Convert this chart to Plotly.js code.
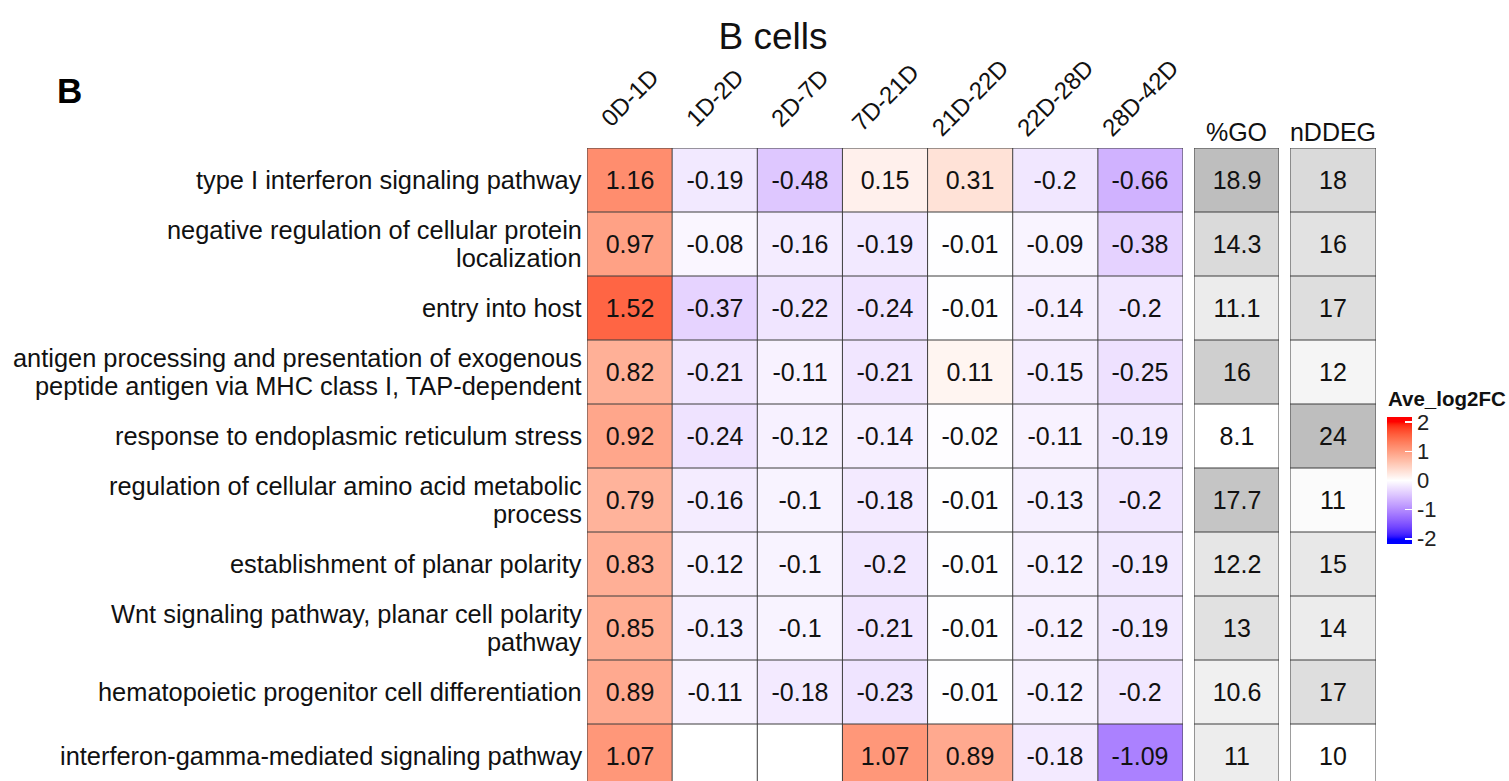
<!DOCTYPE html>
<html>
<head>
<meta charset="utf-8">
<script src="https://cdn.plot.ly/plotly-3.0.1.min.js"></script>
<style>
  html, body { margin: 0; padding: 0; background: #ffffff; }
  #chart { width: 1509px; height: 781px; }
</style>
</head>
<body>
<div id="chart"></div>
<script>
// ---- data ----
const periods = ['0D-1D', '1D-2D', '2D-7D', '7D-21D', '21D-22D', '22D-28D', '28D-42D'];

const pathways = [
  'type I interferon signaling pathway',
  'negative regulation of cellular protein<br>localization',
  'entry into host',
  'antigen processing and presentation of exogenous<br>peptide antigen via MHC class I, TAP-dependent',
  'response to endoplasmic reticulum stress',
  'regulation of cellular amino acid metabolic<br>process',
  'establishment of planar polarity',
  'Wnt signaling pathway, planar cell polarity<br>pathway',
  'hematopoietic progenitor cell differentiation',
  'interferon-gamma-mediated signaling pathway'
];

// average log2 fold change, one row per pathway, one column per period
const log2fc = [
  [1.16, -0.19, -0.48, 0.15, 0.31, -0.2, -0.66],
  [0.97, -0.08, -0.16, -0.19, -0.01, -0.09, -0.38],
  [1.52, -0.37, -0.22, -0.24, -0.01, -0.14, -0.2],
  [0.82, -0.21, -0.11, -0.21, 0.11, -0.15, -0.25],
  [0.92, -0.24, -0.12, -0.14, -0.02, -0.11, -0.19],
  [0.79, -0.16, -0.1, -0.18, -0.01, -0.13, -0.2],
  [0.83, -0.12, -0.1, -0.2, -0.01, -0.12, -0.19],
  [0.85, -0.13, -0.1, -0.21, -0.01, -0.12, -0.19],
  [0.89, -0.11, -0.18, -0.23, -0.01, -0.12, -0.2],
  [1.07, null, null, 1.07, 0.89, -0.18, -1.09]
];

const pctGO = [18.9, 14.3, 11.1, 16, 8.1, 17.7, 12.2, 13, 10.6, 11];
const nDDEG = [18, 16, 17, 12, 24, 11, 15, 14, 17, 10];

const legendTicks = [-2, -1, 0, 1, 2];

// ---- colour helpers: interpolate in CIE Lab ----
function hexToRgb(h) {
  h = h.replace('#', '');
  return [0, 2, 4].map(i => parseInt(h.substr(i, 2), 16));
}
function toLin(c) { c /= 255; return c <= 0.04045 ? c / 12.92 : Math.pow((c + 0.055) / 1.055, 2.4); }
function toSrgb(c) {
  c = c <= 0.0031308 ? 12.92 * c : 1.055 * Math.pow(c, 1 / 2.4) - 0.055;
  return Math.round(Math.max(0, Math.min(1, c)) * 255);
}
const WX = 0.95047, WY = 1.0, WZ = 1.08883;
function rgbToLab(rgb) {
  const [r, g, b] = rgb.map(toLin);
  const X = 0.4124 * r + 0.3576 * g + 0.1805 * b;
  const Y = 0.2126 * r + 0.7152 * g + 0.0722 * b;
  const Z = 0.0193 * r + 0.1192 * g + 0.9505 * b;
  const f = t => t > 0.008856 ? Math.cbrt(t) : 7.787 * t + 16 / 116;
  const fx = f(X / WX), fy = f(Y / WY), fz = f(Z / WZ);
  return [116 * fy - 16, 500 * (fx - fy), 200 * (fy - fz)];
}
function labToRgb(lab) {
  const [L, a, bb] = lab;
  const fy = (L + 16) / 116, fx = fy + a / 500, fz = fy - bb / 200;
  const inv = t => t * t * t > 0.008856 ? t * t * t : (t - 16 / 116) / 7.787;
  const X = WX * inv(fx), Y = WY * inv(fy), Z = WZ * inv(fz);
  const r = 3.2406 * X - 1.5372 * Y - 0.4986 * Z;
  const g = -0.9689 * X + 1.8758 * Y + 0.0415 * Z;
  const b = 0.0557 * X - 0.2040 * Y + 1.0570 * Z;
  return [toSrgb(r), toSrgb(g), toSrgb(b)];
}
// colour ramp through [value, hex] breaks in Lab space, clamped outside the breaks
function labRamp(breaks) {
  const labs = breaks.map(b => [b[0], rgbToLab(hexToRgb(b[1]))]);
  return v => {
    v = Math.max(labs[0][0], Math.min(labs[labs.length - 1][0], v));
    let k = 0;
    while (k < labs.length - 2 && v > labs[k + 1][0]) k++;
    const [v0, l0] = labs[k], [v1, l1] = labs[k + 1];
    const u = (v - v0) / (v1 - v0);
    const c = labToRgb(l0.map((x, j) => x + (l1[j] - x) * u));
    return `rgb(${c[0]},${c[1]},${c[2]})`;
  };
}
// sample a ramp over [lo, hi] into a Plotly colorscale
function sampleScale(ramp, lo, hi, steps) {
  const out = [];
  for (let i = 0; i <= steps; i++) {
    const t = i / steps;
    out.push([t, ramp(lo + t * (hi - lo))]);
  }
  return out;
}

// the legend bar runs slightly past +/-2; colours stay flat beyond the breaks
const BAR_EXT = 2.18;
const divergingRamp = labRamp([[-2, '#0000ff'], [0, '#ffffff'], [2, '#ff0000']]);
const divergingScale = sampleScale(divergingRamp, -BAR_EXT, BAR_EXT, 80);
const grayScale = sampleScale(labRamp([[0, '#ffffff'], [1, '#bebebe']]), 0, 1, 30);

// ---- layout constants ----
const W = 1509, H = 781, TOP = 148, ROW_PX = 64;
const PLOT_H = H - TOP;
const FONT = 'Liberation Sans, Arial, Helvetica, sans-serif';
const INK = '#111111';
const rowIdx = pathways.map((_, i) => i);
const yBottom = -0.5 + PLOT_H / ROW_PX;
const paperY = px => (H - px) / PLOT_H;   // page pixel row -> paper y

const cellText = log2fc.map(r => r.map(v => v === null ? '' : String(v)));

const traces = [
  {
    type: 'heatmap',
    x: periods,
    y: rowIdx,
    z: log2fc,
    text: cellText,
    texttemplate: '%{text}',
    textfont: { family: FONT, size: 25, color: INK },
    colorscale: divergingScale,
    zmin: -BAR_EXT, zmax: BAR_EXT,
    hoverinfo: 'skip',
    xaxis: 'x', yaxis: 'y',
    colorbar: {
      x: 1387 / W, xanchor: 'left', xpad: 0,
      y: paperY(480.5), yanchor: 'middle', ypad: 0,
      len: 127, lenmode: 'pixels',
      thickness: 25, thicknessmode: 'pixels',
      outlinewidth: 0,
      tickvals: legendTicks,
      ticktext: legendTicks.map(String),
      ticks: 'inside', ticklen: 7, tickcolor: '#ffffff', tickwidth: 1.5,
      ticklabelstandoff: 2,
      tickfont: { family: FONT, size: 22, color: '#222222' }
    }
  },
  {
    type: 'heatmap',
    x: ['%GO'],
    y: rowIdx,
    z: pctGO.map(v => [v]),
    text: pctGO.map(v => [String(v)]),
    texttemplate: '%{text}',
    textfont: { family: FONT, size: 25, color: INK },
    colorscale: grayScale,
    showscale: false,
    hoverinfo: 'skip',
    xaxis: 'x2', yaxis: 'y'
  },
  {
    type: 'heatmap',
    x: ['nDDEG'],
    y: rowIdx,
    z: nDDEG.map(v => [v]),
    text: nDDEG.map(v => [String(v)]),
    texttemplate: '%{text}',
    textfont: { family: FONT, size: 25, color: INK },
    colorscale: grayScale,
    showscale: false,
    hoverinfo: 'skip',
    xaxis: 'x3', yaxis: 'y'
  }
];

// cell borders for each block
const shapes = [];
const border = { color: '#3c3c3c', width: 1 };
function gridFor(xref, ncol) {
  for (let c = 0; c <= ncol; c++) {
    shapes.push({ type: 'line', xref: xref, yref: 'y', x0: c - 0.5, x1: c - 0.5, y0: -0.5, y1: pathways.length - 0.5, line: border });
  }
  for (let r = 0; r <= pathways.length; r++) {
    shapes.push({ type: 'line', xref: xref, yref: 'y', x0: -0.5, x1: ncol - 0.5, y0: r - 0.5, y1: r - 0.5, line: border });
  }
}
gridFor('x', periods.length);
gridFor('x2', 1);
gridFor('x3', 1);

function topAxis(domain, ncol, showLabels) {
  return {
    domain: domain,
    anchor: 'y',
    side: 'top',
    type: 'category',
    range: [-0.5, ncol - 0.5],
    showticklabels: showLabels,
    tickangle: 0,
    tickfont: { family: FONT, size: 25, color: INK },
    ticks: '',
    ticklabelstandoff: 1,
    showgrid: false, zeroline: false, showline: false,
    fixedrange: true
  };
}

const annotations = [];

// rotated period names, centred over each column
periods.forEach(p => {
  annotations.push({
    text: p, xref: 'x', yref: 'paper',
    x: p, y: paperY(97.5),
    xanchor: 'center', yanchor: 'middle',
    textangle: -45, showarrow: false,
    font: { family: FONT, size: 24, color: INK }
  });
});

// pathway names, right-aligned against the heatmap, tight line spacing
const LINE_PX = 27.5;
pathways.forEach((name, i) => {
  const lines = name.split('<br>');
  lines.forEach((ln, k) => {
    annotations.push({
      text: ln, xref: 'paper', yref: 'y',
      x: 584 / W, y: i,
      xanchor: 'right', yanchor: 'middle',
      yshift: ((lines.length - 1) / 2 - k) * LINE_PX,
      showarrow: false,
      font: { family: FONT, size: 25.4, color: INK }
    });
  });
});

// panel letter and legend title
annotations.push({
  text: '<b>B</b>', xref: 'paper', yref: 'paper',
  x: 55 / W, xanchor: 'left',
  y: paperY(90), yanchor: 'middle',
  showarrow: false,
  font: { family: FONT, size: 35, color: '#000000' }
});
annotations.push({
  text: '<b>Ave_log2FC</b>', xref: 'paper', yref: 'paper',
  x: 1386 / W, xanchor: 'left',
  y: paperY(398), yanchor: 'middle',
  showarrow: false,
  font: { family: FONT, size: 20.5, color: INK }
});

const layout = {
  width: W, height: H,
  margin: { l: 0, r: 0, t: TOP, b: 0, pad: 0 },
  paper_bgcolor: '#ffffff',
  plot_bgcolor: '#ffffff',
  font: { family: FONT, color: INK },
  title: {
    text: 'B cells',
    x: 773 / W, xanchor: 'center', xref: 'paper',
    y: 1 - 36 / H, yanchor: 'middle', yref: 'container',
    font: { family: FONT, size: 37, color: INK }
  },
  xaxis: topAxis([587 / W, 1183 / W], periods.length, false),
  xaxis2: topAxis([1194 / W, 1279 / W], 1, true),
  xaxis3: topAxis([1290 / W, 1376 / W], 1, true),
  yaxis: {
    domain: [0, 1],
    anchor: 'x',
    range: [yBottom, -0.5],
    showticklabels: false,
    ticks: '',
    showgrid: false, zeroline: false, showline: false,
    fixedrange: true
  },
  shapes: shapes,
  annotations: annotations,
  showlegend: false
};

Plotly.newPlot('chart', traces, layout, { staticPlot: true, displayModeBar: false });
</script>
</body>
</html>
